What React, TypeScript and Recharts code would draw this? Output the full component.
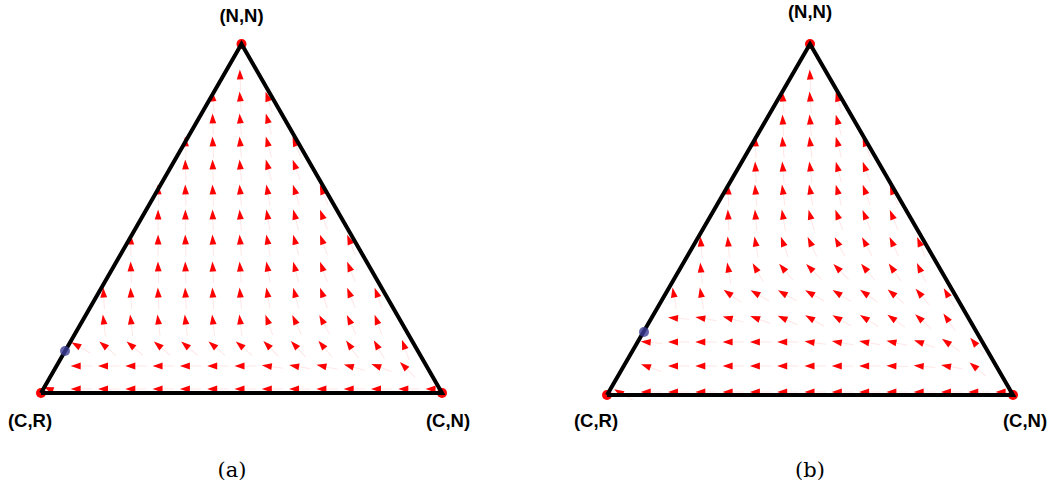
import React from 'react';
import { ScatterChart, Scatter, XAxis, YAxis } from 'recharts';

// ---------- Panel (a) data ----------
const H_A = 0.87;
const colsA = [0.0197, 0.0878, 0.1559, 0.2239, 0.292, 0.3601, 0.4282, 0.4963, 0.5643, 0.6324, 0.7005, 0.7686, 0.8367, 0.9047, 0.9728];
const rowYA = [0.01, 0.0673, 0.1197, 0.182, 0.2494, 0.3142, 0.3815, 0.4439, 0.5062, 0.5686, 0.6259, 0.6833, 0.7382, 0.793];
const rowFirstA = [-7, -6, -6, -5, -5, -4, -4, -3, -3, -2, -2, -1, -1, 0];
const anglesA = [
  [160, 180, 180, 180, 180, 180, 180, 180, 180, 180, 180, 180, 180, 180, 180],
  [180, 180, 180, 180, 180, 180, 180, 172, 170, 168, 165, 160, 135],
  [150, 140, 140, 140, 140, 140, 140, 135, 133, 130, 125, 120, 110],
  [97, 97, 97, 97, 97, 97, 110, 115, 118, 115, 110],
  [93, 93, 93, 93, 93, 95, 100, 105, 110, 112, 110],
  [92, 92, 92, 93, 95, 100, 105, 110, 112],
  [90, 90, 92, 93, 95, 100, 105, 110, 112],
  [90, 90, 92, 95, 100, 105, 110],
  [92, 92, 93, 95, 100, 108, 112],
  [92, 92, 95, 105, 110],
  [92, 93, 95, 105, 112],
  [92, 95, 105],
  [95, 95, 108],
  [92],
];
const blueA = [{ x: 0.0599, y: 0.1047 }];

// ---------- Panel (b) data ----------
const H_B = 0.8645;
const colsB = [0.0293, 0.0966, 0.1638, 0.231, 0.2983, 0.3655, 0.4328, 0.5, 0.5672, 0.6345, 0.7017, 0.769, 0.8362, 0.9034, 0.9707];
const rowYB = [0.0074, 0.0714, 0.1305, 0.1897, 0.2512, 0.3128, 0.3768, 0.4433, 0.5049, 0.5616, 0.6232, 0.6773, 0.734, 0.7882];
const rowFirstB = [-7, -6, -6, -5, -5, -4, -4, -3, -3, -2, -2, -1, -1, 0];
const anglesB = [
  [150, 180, 180, 180, 180, 180, 180, 180, 180, 180, 180, 180, 180, 180, 180],
  [160, 180, 180, 180, 180, 180, 180, 180, 180, 178, 175, 170, 140],
  [175, 180, 180, 180, 180, 180, 172, 170, 170, 168, 160, 145, 130],
  [175, 170, 165, 160, 155, 150, 150, 148, 145, 138, 125],
  [100, 100, 145, 150, 150, 150, 148, 145, 140, 130, 120],
  [95, 100, 120, 130, 135, 135, 130, 125, 115],
  [95, 95, 100, 110, 115, 118, 118, 115, 112],
  [93, 95, 100, 105, 110, 112, 112],
  [92, 95, 98, 100, 105, 110, 112],
  [93, 95, 97, 105, 110],
  [92, 95, 97, 105, 110],
  [93, 95, 105],
  [95, 95, 105],
  [93],
];
const blueB = [{ x: 0.0911, y: 0.155 }];

const vertexNames = ['(C,R)', '(C,N)', '(N,N)'];

function buildArrows(cols: number[], rowY: number[], first: number[], angles: number[][]) {
  const out: { x: number; y: number; angle: number }[] = [];
  rowY.forEach((y, i) => {
    angles[i].forEach((a, j) => {
      out.push({ x: cols[first[i] + 7 + j], y, angle: a });
    });
  });
  return out;
}

const ArrowHead = (props: any) => {
  const { cx, cy, payload } = props;
  if (cx == null || cy == null) return <g />;
  return (
    <g transform={`translate(${cx},${cy}) rotate(${-payload.angle})`}>
      <line x1={-16} y1={0} x2={-3} y2={0} stroke="#ff0000" strokeOpacity={0.1} strokeWidth={1} />
      <polygon points="5.5,0 -4.5,-3.4 -4.5,3.4" fill="#ff0000" />
    </g>
  );
};

const Dot = (color: string, r: number, opacity = 1) => (props: any) => {
  const { cx, cy } = props;
  if (cx == null) return <g />;
  return <circle cx={cx} cy={cy} r={r} fill={color} fillOpacity={opacity} />;
};

const LabelShape = (props: any) => {
  const { cx, cy, payload } = props;
  if (cx == null) return <g />;
  return (
    <text
      x={cx + payload.dx}
      y={cy + payload.dy}
      textAnchor="middle"
      fontFamily="'Liberation Sans', Arial, sans-serif"
      fontWeight="bold"
      fontSize={18.5}
      fill="#000"
    >
      {payload.text}
    </text>
  );
};

type PanelProps = {
  left: number;
  margin: { top: number; right: number; bottom: number; left: number };
  H: number;
  cols: number[];
  rowY: number[];
  first: number[];
  angles: number[][];
  blue: { x: number; y: number }[];
  labelOffsets: { dx: number; dy: number }[];
};

const Panel = ({ left, margin, H, cols, rowY, first, angles, blue, labelOffsets }: PanelProps) => {
  const arrows = buildArrows(cols, rowY, first, angles);
  const verts = [
    { x: 0, y: 0 },
    { x: 1, y: 0 },
    { x: 0.5, y: H },
  ];
  const edges = [verts[0], verts[1], verts[2], verts[0]];
  const labels = verts.map((v, i) => ({ ...v, text: vertexNames[i], ...labelOffsets[i] }));
  return (
    <div style={{ position: 'absolute', left, top: 0 }}>
      <ScatterChart width={527} height={492} margin={margin}>
        <XAxis type="number" dataKey="x" domain={[0, 1]} hide />
        <YAxis type="number" dataKey="y" domain={[0, H]} hide />
        <Scatter data={arrows} shape={ArrowHead} isAnimationActive={false} />
        <Scatter data={verts} shape={Dot('#ff0000', 5)} isAnimationActive={false} />
        <Scatter
          data={edges}
          line={{ stroke: '#000', strokeWidth: 4, strokeLinejoin: 'miter' } as any}
          lineType="joint"
          shape={() => <g />}
          isAnimationActive={false}
        />
        <Scatter data={blue} shape={Dot('#3c3c96', 5, 0.8)} isAnimationActive={false} />
        <Scatter data={labels} shape={LabelShape} isAnimationActive={false} />
      </ScatterChart>
    </div>
  );
};

const captionStyle: React.CSSProperties = {
  position: 'absolute',
  top: 458,
  width: 80,
  textAlign: 'center',
  fontFamily: "'DejaVu Serif', serif",
  fontSize: 21,
  color: '#000',
};

export default function App() {
  return (
    <div style={{ position: 'absolute', left: 0, top: 0, width: 1054, height: 492, background: '#fff', overflow: 'hidden' }}>
      <Panel
        left={0}
        margin={{ top: 44, right: 85, bottom: 99, left: 41 }}
        H={H_A}
        cols={colsA}
        rowY={rowYA}
        first={rowFirstA}
        angles={anglesA}
        blue={blueA}
        labelOffsets={[
          { dx: -11, dy: 34 },
          { dx: 6, dy: 34 },
          { dx: 0, dy: -22 },
        ]}
      />
      <Panel
        left={527}
        margin={{ top: 44, right: 41, bottom: 97, left: 80 }}
        H={H_B}
        cols={colsB}
        rowY={rowYB}
        first={rowFirstB}
        angles={anglesB}
        blue={blueB}
        labelOffsets={[
          { dx: -11, dy: 32 },
          { dx: 12, dy: 32 },
          { dx: 0, dy: -26 },
        ]}
      />
      <div style={{ ...captionStyle, left: 232 - 40 }}>(a)</div>
      <div style={{ ...captionStyle, left: 810 - 40 }}>(b)</div>
    </div>
  );
}
